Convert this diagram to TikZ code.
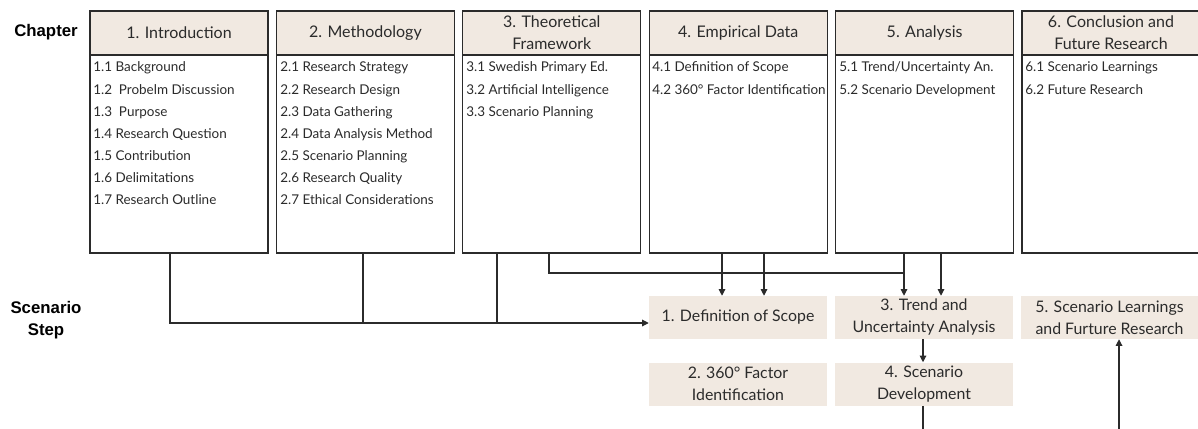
\documentclass[tikz,border=0pt]{standalone}
\usepackage{fontspec}
\setmainfont{Lato}
\newfontfamily\labelfont{Liberation Sans}
\usetikzlibrary{arrows.meta,calc}
\definecolor{beige}{HTML}{F1E9E1}
\definecolor{ink}{HTML}{2B2B2B}
\begin{document}
\begin{tikzpicture}[x=0.75pt,y=-0.75pt,
  every node/.style={text=ink},
  hdr/.style={draw=ink,line width=0.9pt,fill=beige,minimum width=133.5pt,minimum height=33pt,
    inner sep=0pt,align=center,font=\fontsize{12}{16.5}\selectfont},
  body/.style={draw=ink,line width=0.9pt,minimum width=133.5pt,minimum height=148.5pt,inner sep=0pt},
  item/.style={anchor=base west,inner sep=0pt,font=\fontsize{10.1}{12}\selectfont},
  stepbox/.style={fill=beige,minimum width=133.5pt,minimum height=32.25pt,inner sep=0pt,
    align=center,font=\fontsize{11.9}{16.5}\selectfont},
  side/.style={font=\labelfont\bfseries\fontsize{12.6}{16.5}\selectfont,align=center,text=black},
  link/.style={draw=ink,line width=0.8pt},
  arr/.style={link,-{Triangle[length=5pt,width=5pt]}}]
\useasboundingbox (0,0) rectangle (1198,428);

% row labels
\node[side] (lchap) at (46,32) {Chapter};
\node[side] (lstep) at (46,320) {Scenario\\Step};

% chapter boxes: header and body
\foreach \x/\n/\t in {179/1/{1. Introduction},365.4/2/{2. Methodology},551.8/3/{3. Theoretical\\Framework},
    738.2/4/{4. Empirical Data},924.6/5/{5. Analysis},1111/6/{6. Conclusion and\\Future Research}}{
  \node[body] (b\n) at (\x,154) {};
  \node[hdr] (h\n) at (\x,33) {\t};
}

% chapter contents
\foreach \t [count=\k] in {1.1 Background,1.2\ \ Probelm Discussion,1.3\ \ Purpose,1.4 Research Question,
    1.5 Contribution,1.6 Delimitations,1.7 Research Outline}
  \node[item] (i1-\k) at (93,72+22*\k-22) {\t};
\foreach \t [count=\k] in {2.1 Research Strategy,2.2 Research Design,2.3 Data Gathering,
    2.4 Data Analysis Method,2.5 Scenario Planning,2.6 Research Quality,2.7 Ethical Considerations}
  \node[item] (i2-\k) at (280,72+22*\k-22) {\t};
\foreach \t [count=\k] in {3.1 Swedish Primary Ed.,3.2 Artificial Intelligence,3.3 Scenario Planning}
  \node[item] (i3-\k) at (466,72+22*\k-22) {\t};
\foreach \t [count=\k] in {4.1 Definition of Scope,4.2 360° Factor Identification}
  \node[item] (i4-\k) at (652,72+22*\k-22) {\t};
\foreach \t [count=\k] in {{5.1 Trend/Uncertainty An.},5.2 Scenario Development}
  \node[item] (i5-\k) at (839,72+22*\k-22) {\t};
\foreach \t [count=\k] in {6.1 Scenario Learnings,6.2 Future Research}
  \node[item] (i6-\k) at (1025,72+22*\k-22) {\t};

% scenario steps
\node[stepbox] (s1) at (738,317.5) {1. Definition of Scope};
\node[stepbox] (s3) at (924,317.5) {3. Trend and\\Uncertainty Analysis};
\node[stepbox,minimum width=132.75pt] (s5) at (1109.5,317.5) {5. Scenario Learnings\\and Furture Research};
\node[stepbox] (s2) at (738,384) {2. 360° Factor\\Identification};
\node[stepbox] (s4) at (924,384) {4. Scenario\\Development};

% junction points of the connectors
\coordinate (busA) at (170,323);
\coordinate (d2) at (363,323);
\coordinate (d3) at (497,323);
\coordinate (e3) at (549,273);
\coordinate (e5) at (904,273);
\coordinate (f5) at (941,273);
\coordinate (g4a) at (722,0);
\coordinate (g4b) at (764,0);
\coordinate (g) at (923,0);
\coordinate (h) at (1119,0);
\coordinate (bottom) at (0,432);

% chapters 1-3 feed the definition of scope
\draw[arr] (b1.south -| busA) |- (s1.west |- busA);
\draw[link] (b2.south -| d2) -- (d2);
\draw[link] (b3.south -| d3) -- (d3);

% chapter 4 feeds the definition of scope
\draw[arr] (b4.south -| g4a) -- (s1.north -| g4a);
\draw[arr] (b4.south -| g4b) -- (s1.north -| g4b);

% chapters 3 and 5 feed the trend analysis
\draw[link] (b3.south -| e3) -- (e3) -- (e5);
\draw[arr] (b5.south -| e5) -- (s3.north -| e5);
\draw[arr] (b5.south -| f5) -- (s3.north -| f5);

% step sequence
\draw[arr] (s3.south -| g) -- (s4.north -| g);
\draw[link] (s4.south -| g) -- (g |- bottom);
\draw[arr] (h |- bottom) -- (s5.south -| h);
\end{tikzpicture}
\end{document}
